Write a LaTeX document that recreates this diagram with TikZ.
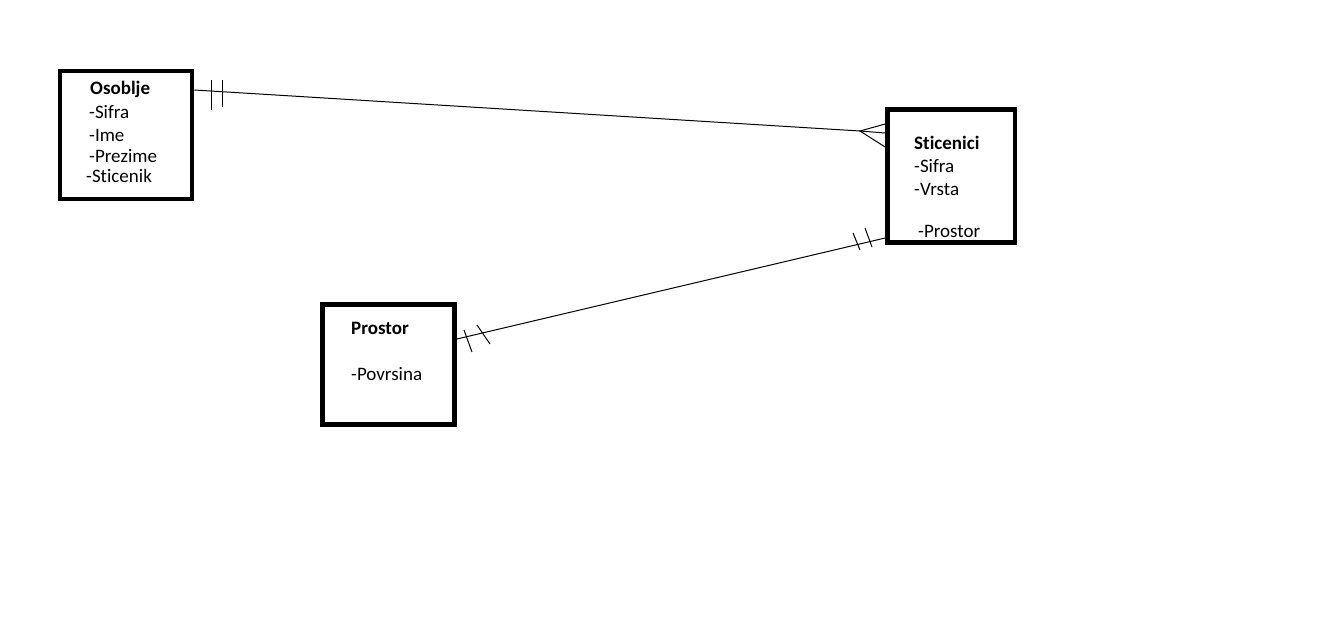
\documentclass[tikz,border=0pt]{standalone}
\usepackage{fontspec}
\setmainfont[Ligatures={NoCommon}]{Carlito}
\usetikzlibrary{calc}
\begin{document}
\begin{tikzpicture}[x=1pt,y=-1pt,
  entity/.style={draw=black,line width=4.8pt,fill=white,inner sep=0pt},
  txt/.style={anchor=base west,inner sep=0pt,font=\fontsize{19}{22}\selectfont},
  ttl/.style={txt,font=\fontsize{19}{22}\selectfont\bfseries},
  rel/.style={draw=black,line width=1pt}]
\useasboundingbox[fill=white] (0,0) rectangle (1322,640);
% entities
\node[entity,minimum width=132pt,minimum height=128pt] (osoblje) at (126,135) {};
\node[entity,minimum width=127.5pt,minimum height=133pt] (sticenici) at (951.25,176) {};
\node[entity,minimum width=132pt,minimum height=120pt] (prostor) at (388.5,364.5) {};
% texts
\node[ttl] (o0) at (90,94) {Osoblje};
\node[txt] (o1) at (89,118) {-Sifra};
\node[txt] (o2) at (89,141) {-Ime};
\node[txt] (o3) at (89,162) {-Prezime};
\node[txt] (o4) at (86,182) {-Sticenik};
\node[ttl] (s0) at (914,149) {Sticenici};
\node[txt] (s1) at (914,172) {-Sifra};
\node[txt] (s2) at (914,195) {-Vrsta};
\node[txt] (s3) at (918,237) {-Prostor};
\node[ttl] (p0) at (351,334) {Prostor};
\node[txt] (p1) at (351,380) {-Povrsina};
% connector points
\coordinate (oe) at ($(osoblje.east)+(0,-45)$);
\coordinate (crow) at (860,131);
\coordinate (sw1) at ($(sticenici.west)+(0,-43)$);
\coordinate (sw2) at ($(sticenici.west)+(0,-52)$);
\coordinate (sw3) at ($(sticenici.west)+(0,-29)$);
\coordinate (sw4) at ($(sticenici.west)+(0,62)$);
\coordinate (pe) at ($(prostor.east)+(0,-25.5)$);
% Osoblje -- Sticenici
\draw[rel] (oe) -- (crow) -- (sw1);
\draw[rel] (sw2) -- (crow) -- (sw3);
\draw[rel] (211,80) -- (211,110);
\draw[rel] (222,80) -- (222,107);
% Prostor -- Sticenici
\draw[rel] (pe) -- (sw4);
\draw[rel] (464,330) -- (472,352);
\draw[rel] (477,325) -- (490,344);
\draw[rel] (853,233) -- (860,250);
\draw[rel] (865,228) -- (872,247);
\end{tikzpicture}
\end{document}
